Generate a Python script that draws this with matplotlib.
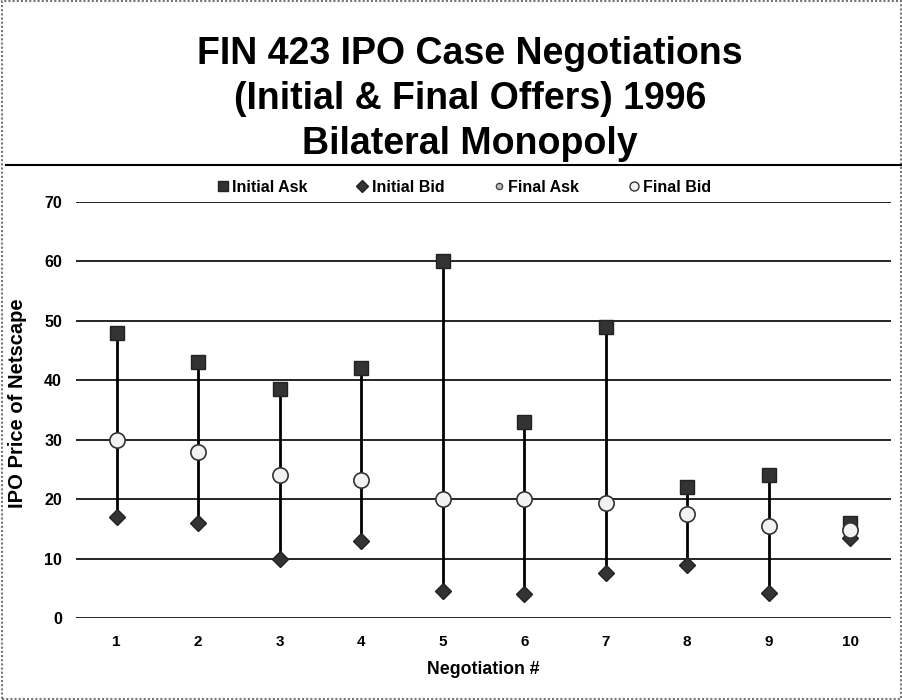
import matplotlib.pyplot as plt
from matplotlib.patches import Rectangle
from matplotlib.lines import Line2D

plt.rcParams['font.family'] = ['Liberation Sans', 'DejaVu Sans']
plt.rcParams['font.weight'] = 'bold'

# data
negotiation = [1, 2, 3, 4, 5, 6, 7, 8, 9, 10]
initial_ask = [48, 43, 38.5, 42, 60, 33, 49, 22, 24, 16]
initial_bid = [17, 16, 10, 13, 4.5, 4, 7.5, 9, 4.2, 13.5]
final_ask = [30, 28, 24, 23.2, 20, 20, 19.3, 17.5, 15.5, 14.8]
final_bid = [30, 28, 24, 23.2, 20, 20, 19.3, 17.5, 15.5, 14.8]
yticks = [0, 10, 20, 30, 40, 50, 60, 70]

fig = plt.figure(figsize=(9.03, 7), dpi=100)
ax = fig.add_axes([76 / 903, 1 - 618 / 700, (891 - 76) / 903, (618 - 202) / 700])

# high-low lines
ax.vlines(negotiation, initial_bid, initial_ask, colors='black', lw=2, zorder=2)

ax.plot(negotiation, initial_ask, ls='none', marker='s', ms=10, mfc='#333333',
        mec='#222222', zorder=3)
ax.plot(negotiation, initial_bid, ls='none', marker='D', ms=8, mfc='#333333',
        mec='#222222', zorder=3)
ax.plot(negotiation, final_ask, ls='none', marker='o', ms=7, mfc='#c0c0c0',
        mec='#444444', zorder=4)
ax.plot(negotiation, final_bid, ls='none', marker='o', ms=11, mfc='#f2f2f2',
        mec='#333333', mew=1.2, zorder=5)

ax.set_xlim(0.5, 10.5)
ax.set_ylim(0, 70)
ax.set_xticks(negotiation)
ax.set_yticks(yticks)
ax.yaxis.grid(True, color='black', lw=1.2)
ax.set_axisbelow(True)
for s in ax.spines.values():
    s.set_visible(False)
ax.tick_params(axis='x', length=0, labelsize=11, pad=12)
ax.tick_params(axis='y', length=0, labelsize=11.5, pad=10)
for lbl in ax.get_xticklabels() + ax.get_yticklabels():
    lbl.set_fontweight('bold')
ax.set_xlabel('Negotiation #', fontsize=12.8, fontweight='bold')
ax.set_ylabel('IPO Price of Netscape', fontsize=14.5, fontweight='bold')
ax.xaxis.set_label_coords(0.5, -0.103)
ax.yaxis.set_label_coords(-0.060, 0.517)

# legend
handles = [
    Line2D([], [], ls='none', marker='s', ms=7, mfc='#333333', mec='#222222'),
    Line2D([], [], ls='none', marker='D', ms=6, mfc='#333333', mec='#222222'),
    Line2D([], [], ls='none', marker='o', ms=4.5, mfc='#c0c0c0', mec='#444444'),
    Line2D([], [], ls='none', marker='o', ms=6.5, mfc='#f2f2f2', mec='#333333'),
]
fig.legend(handles, ['Initial Ask', 'Initial Bid', 'Final Ask', 'Final Bid'],
           loc='center', bbox_to_anchor=(463 / 903, 1 - 187 / 700), ncol=4,
           frameon=False, prop={'weight': 'bold', 'size': 11.5}, handletextpad=0.1,
           columnspacing=2.9, handlelength=1.0, borderpad=0, borderaxespad=0)

fig.text(470 / 903, 1 - 99 / 700,
         'FIN 423 IPO Case Negotiations\n(Initial & Final Offers) 1996\nBilateral Monopoly',
         ha='center', va='center', fontsize=27, fontweight='bold', linespacing=1.33)

# separator under title and outer border
fig.add_artist(Line2D([6 / 903, 1], [1 - 165 / 700, 1 - 165 / 700], color='black', lw=1.5))
fig.add_artist(Rectangle((0.002, 0.002), 0.996, 0.996, fill=False, ec='#777777',
                         ls=(0, (1, 1)), lw=1.5, transform=fig.transFigure))

fig.savefig('out.png', dpi=100)
